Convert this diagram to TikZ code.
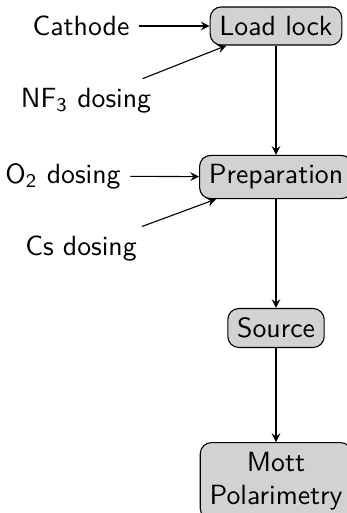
\documentclass[tikz,border=0pt]{standalone}
\usetikzlibrary{arrows}
\renewcommand{\familydefault}{\sfdefault}
\begin{document}
\begin{tikzpicture}[x=0.36pt,y=0.36pt,yscale=-1,xscale=1,
  stage/.style={draw,rounded corners,fill=gray!35,align=center},
  feed/.style={align=center},
  flow/.style={-stealth}]
\useasboundingbox (0,0) rectangle (347,513);

% Stage Nodes
\draw (276,26) node [stage] (load) {Load lock};
\draw (276,177) node [stage] (prep) {Preparation};
\draw (276,328) node [stage] (src) {Source};
\draw (276,481) node [stage] (mott) {Mott\\Polarimetry};

% Text Node
\draw (81,26) node [feed] (cath) {Cathode};
% Text Node
\draw (86,101) node [feed] (nf) {NF\textsubscript{3} dosing};
% Text Node
\draw (63,176) node [feed] (oxy) {O\textsubscript{2} dosing};
% Text Node
\draw (81,249) node [feed] (cs) {Cs dosing};

%Straight Lines
\draw [flow] (cath) -- (load);
\draw [flow] (nf) -- (load);
\draw [flow] (oxy) -- (prep);
\draw [flow] (cs) -- (prep);
\draw [flow] (load) -- (prep);
\draw [flow] (prep) -- (src);
\draw [flow] (src) -- (mott);

\end{tikzpicture}
\end{document}
